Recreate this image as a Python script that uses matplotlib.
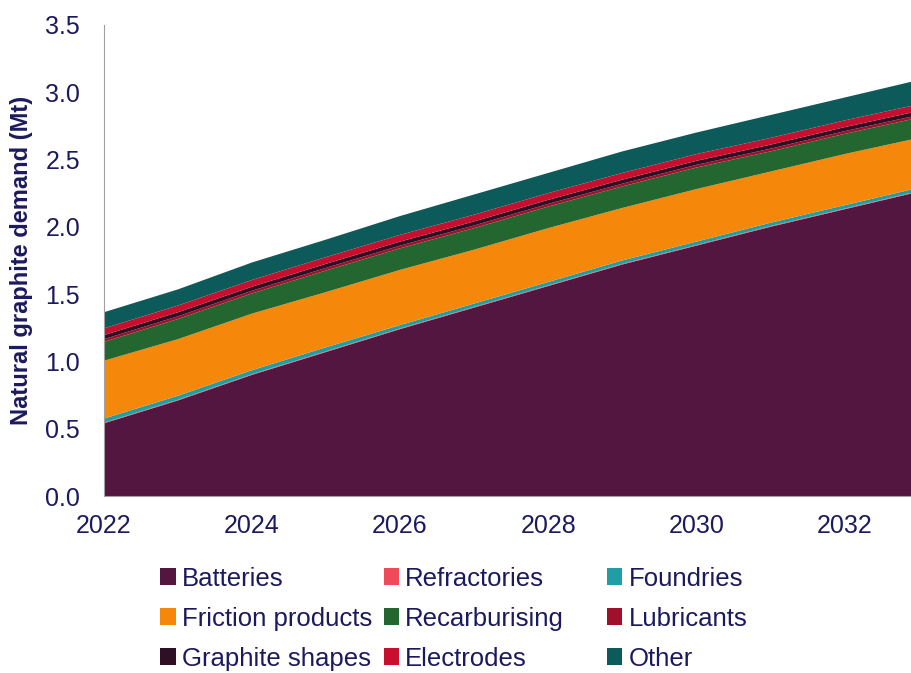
import matplotlib
matplotlib.use("Agg")
import matplotlib.pyplot as plt
from matplotlib.patches import Patch

years = [2022, 2023, 2024, 2025, 2026, 2027, 2028, 2029, 2030, 2031, 2032, 2033]
batteries = [0.54, 0.71, 0.90, 1.07, 1.24, 1.40, 1.56, 1.72, 1.86, 2.00, 2.13, 2.26]
refractories = [0.005, 0.005, 0.005, 0.005, 0.005, 0.005, 0.005, 0.005, 0.005, 0.005, 0.005, 0.005]
foundries = [0.03, 0.03, 0.03, 0.03, 0.025, 0.025, 0.025, 0.025, 0.025, 0.025, 0.025, 0.025]
friction = [0.43, 0.42, 0.42, 0.41, 0.41, 0.40, 0.40, 0.39, 0.39, 0.38, 0.38, 0.37]
recarburising = [0.14, 0.15, 0.15, 0.16, 0.16, 0.16, 0.16, 0.16, 0.16, 0.15, 0.15, 0.15]
lubricants = [0.02, 0.02, 0.02, 0.02, 0.02, 0.02, 0.02, 0.02, 0.02, 0.02, 0.02, 0.02]
graphite_shapes = [0.03, 0.03, 0.03, 0.03, 0.03, 0.03, 0.03, 0.03, 0.03, 0.03, 0.03, 0.03]
electrodes = [0.05, 0.05, 0.05, 0.05, 0.05, 0.05, 0.05, 0.05, 0.05, 0.05, 0.05, 0.05]
other = [0.12, 0.12, 0.13, 0.13, 0.14, 0.15, 0.15, 0.16, 0.16, 0.17, 0.17, 0.18]

labels = ["Batteries", "Refractories", "Foundries", "Friction products", "Recarburising",
          "Lubricants", "Graphite shapes", "Electrodes", "Other"]
colors = ["#521640", "#f04a5a", "#1f9ea6", "#f5870a", "#24662f",
          "#a0102a", "#2e0f26", "#c8102e", "#0d5a5a"]
series = [batteries, refractories, foundries, friction, recarburising,
          lubricants, graphite_shapes, electrodes, other]

navy = "#1b1a5e"
plt.rcParams['font.family'] = ['Liberation Sans', 'DejaVu Sans']

fig = plt.figure(figsize=(9.11, 6.73), dpi=100)
ax = fig.add_axes([0.114, 0.263, 0.886, 0.700])
ax.stackplot(years, *series, colors=colors, linewidth=0)

ax.set_xlim(2022, 2032.9)
ax.set_ylim(0, 3.5)
ax.set_yticks([0.0, 0.5, 1.0, 1.5, 2.0, 2.5, 3.0, 3.5])
ax.set_yticklabels(["0.0", "0.5", "1.0", "1.5", "2.0", "2.5", "3.0", "3.5"])
ax.set_xticks([2022, 2024, 2026, 2028, 2030, 2032])
ax.tick_params(length=0, labelsize=18, colors=navy)
ax.tick_params(axis='y', pad=17)
ax.tick_params(axis='x', pad=13)
for s in ["top", "right"]:
    ax.spines[s].set_visible(False)
ax.spines["left"].set_color("#a0a0a0")
ax.spines["bottom"].set_color("#a0a0a0")
ax.set_ylabel("Natural graphite demand (Mt)", fontsize=17, fontweight="bold", color=navy)
ax.yaxis.set_label_coords(-0.088, 0.5)

# legend: three columns placed to match the reference
col_x = [0.176, 0.421, 0.666]
for c in range(3):
    idx = [c, c + 3, c + 6]
    hs = [Patch(facecolor=colors[i], edgecolor="none") for i in idx]
    ls = [labels[i] for i in idx]
    leg = fig.legend(hs, ls, loc="upper left", bbox_to_anchor=(col_x[c], 0.158),
                     frameon=False, fontsize=18.5, handlelength=0.6, handleheight=0.6,
                     handletextpad=0.25, labelspacing=0.62, borderpad=0, borderaxespad=0,
                     labelcolor=navy)

fig.savefig("out.png", dpi=100)
